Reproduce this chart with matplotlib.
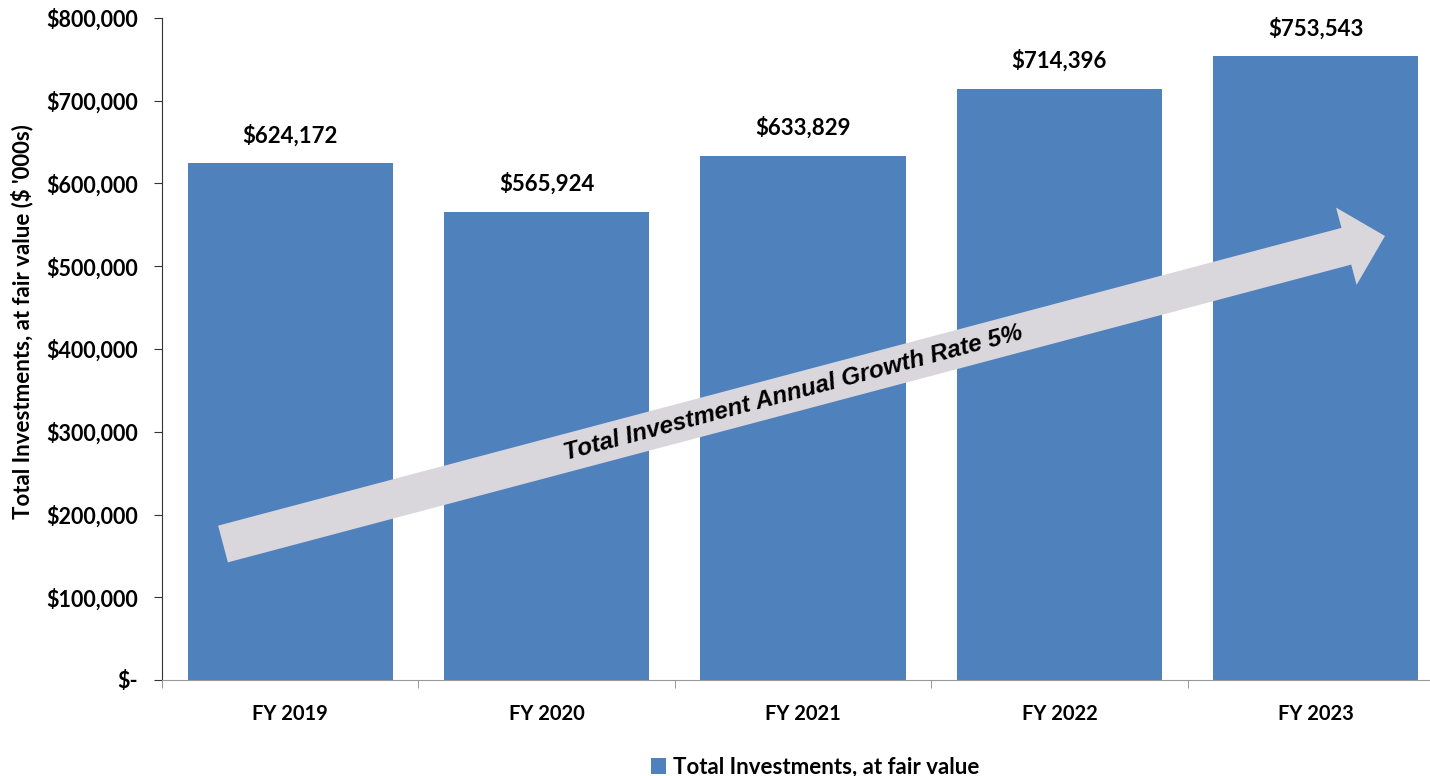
import matplotlib
matplotlib.use("Agg")
import matplotlib.pyplot as plt
from matplotlib.patches import Polygon
from matplotlib.ticker import FuncFormatter
import numpy as np

categories = ["FY 2019", "FY 2020", "FY 2021", "FY 2022", "FY 2023"]
values = [624172, 565924, 633829, 714396, 753543]
yticks = [0, 100000, 200000, 300000, 400000, 500000, 600000, 700000, 800000]
series_name = "Total Investments, at fair value"
ylabel = "Total Investments, at fair value ($ '000s)"
arrow_text = "Total Investment Annual Growth Rate 5%"

W, H = 1430, 776
fig = plt.figure(figsize=(W / 100, H / 100), dpi=100)
plt.rcParams['font.family'] = ['Lato', 'DejaVu Sans']

ax = fig.add_axes([162 / W, 1 - 680 / H, (1430 - 162) / W, (680 - 18) / H])
x = np.arange(len(categories))
bars = ax.bar(x, values, width=0.8, color="#4F81BD", label=series_name, zorder=2)
ax.set_yticks(yticks)
ax.yaxis.set_major_formatter(FuncFormatter(lambda v, p: "$-" if v == 0 else f"${v:,.0f}"))
ax.set_xticks(x)
ax.set_xticklabels(categories)
ax.set_xticks(np.arange(len(categories)) - 0.5, minor=True)
ax.set_xlim(-0.5, -0.5 + (1430 - 162) / 256.4)
ax.set_ylim(0, 800000)
ax.tick_params(axis='x', which='major', length=0, pad=17)
ax.tick_params(axis='x', which='minor', length=6, color="#888888", direction='out')
ax.tick_params(axis='y', length=6, direction='out', color="#333333", pad=11)
for lab in ax.get_xticklabels():
    lab.set_fontweight('bold')
    lab.set_fontsize(14.5)
for lab in ax.get_yticklabels():
    lab.set_fontweight('bold')
    lab.set_fontsize(15.5)
for s in ['top', 'right']:
    ax.spines[s].set_visible(False)
ax.spines['left'].set_color("#333333")
ax.spines['bottom'].set_color("#999999")
ax.set_ylabel(ylabel, fontsize=16, fontweight='bold')
ax.yaxis.set_label_coords(-0.1017, 0.541)

for xi, v in zip(x, values):
    ax.annotate(f"${v:,.0f}", (xi, v), xytext=(0, 12), textcoords='offset points',
                ha='center', va='bottom', fontsize=16, fontweight='bold')

# arrow (in pixel coordinates of the figure)
tail = np.array([223.0, 544.0])
tip = np.array([1385.0, 236.0])
d = tip - tail
L = np.hypot(*d)
u = d / L
n = np.array([-u[1], u[0]])
hw, hhw, hl = 19, 40, 40
base = tip - u * hl
pts = [tail + n * hw, base + n * hw, base + n * hhw, tip, base - n * hhw, base - n * hw, tail - n * hw]
pts_fig = [(p[0] / W, 1 - p[1] / H) for p in pts]
fig.patches.append(Polygon(pts_fig, closed=True, transform=fig.transFigure,
                           facecolor="#D9D6DC", edgecolor="none", zorder=5))
ang = np.degrees(np.arctan2(-d[1], d[0]))
fig.text(793 / W, 1 - 393 / H, arrow_text, rotation=ang, rotation_mode='anchor',
         ha='center', va='center', fontsize=17.5, fontweight='bold', fontstyle='italic',
         family=['Liberation Sans Narrow', 'Liberation Sans', 'DejaVu Sans'], zorder=6)

leg = fig.legend(handles=[bars], labels=[series_name], loc='center',
                 bbox_to_anchor=(815 / W, 1 - 767 / H), frameon=False,
                 handlelength=0.7, handleheight=0.7, handletextpad=0.3,
                 prop={'weight': 'bold', 'size': 16})

fig.savefig("out.png", dpi=100)
